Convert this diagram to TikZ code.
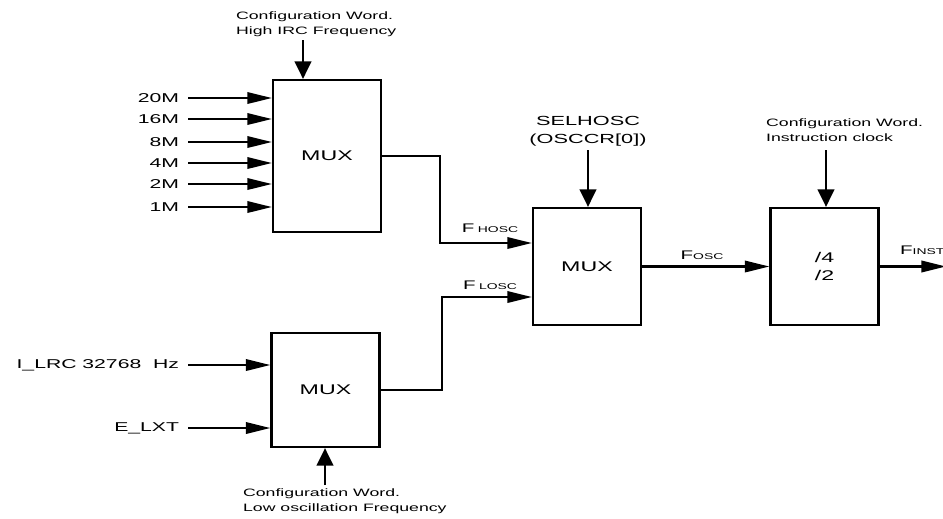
\documentclass[tikz,border=0pt]{standalone}
\usepackage{fontspec}
\setmainfont[FakeStretch=1.65]{Liberation Sans}
\usetikzlibrary{arrows.meta}
\newcommand\fsub[1]{{\fontsize{4.8}{5}\selectfont #1}}

\begin{document}
\begin{tikzpicture}[x=0.02cm,y=-0.02cm,line width=1.3pt,
  blk/.style={draw,minimum width=2.16cm,inner sep=0pt,align=center,
    font=\fontsize{8}{10}\selectfont},
  hsig/.style={-{Triangle[length=14pt,width=6.5pt]}},
  vsig/.style={-{Triangle[length=10pt,width=9.5pt]}},
  inp/.style={anchor=east,inner xsep=4.5pt,inner ysep=1pt,
    font=\fontsize{7.3}{8.5}\selectfont},
  cfg/.style={anchor=west,align=left,inner sep=0pt,
    font=\fontsize{6.1}{8.5}\selectfont},
  sel/.style={align=center,inner sep=2pt,font=\fontsize{7.5}{10}\selectfont},
  flbl/.style={inner sep=0pt,font=\fontsize{7.1}{8.5}\selectfont}]
            \useasboundingbox (0,0) rectangle (943,518);

            \draw (327,156) node[blk,minimum height=3.04cm] (muxh) {MUX};
            \draw (587,266.5) node[blk,minimum height=2.34cm] (muxm) {MUX};
            \draw (824.5,266.5) node[blk,minimum height=2.34cm] (divb) {/4\\/2};
            \draw (325.5,390) node[blk,minimum height=2.28cm] (muxl) {MUX};

            \draw (188,98) node[inp] (i20) {20M};
            \draw (188,119) node[inp] (i16) {16M};
            \draw (188,142) node[inp] (i8) {8M};
            \draw (188,163) node[inp] (i4) {4M};
            \draw (188,184) node[inp] (i2) {2M};
            \draw (188,207) node[inp] (i1) {1M};
            \draw[hsig] (i20) -- (i20 -| muxh.west);
            \draw[hsig] (i16) -- (i16 -| muxh.west);
            \draw[hsig] (i8) -- (i8 -| muxh.west);
            \draw[hsig] (i4) -- (i4 -| muxh.west);
            \draw[hsig] (i2) -- (i2 -| muxh.west);
            \draw[hsig] (i1) -- (i1 -| muxh.west);

            \draw (188,365) node[inp] (ilrc) {I\_LRC 32768\ \ Hz};
            \draw (188,428) node[inp] (elxt) {E\_LXT};
            \draw[hsig] (ilrc) -- (ilrc -| muxl.west);
            \draw[hsig] (elxt) -- (elxt -| muxl.west);

            \draw (235,24) node[cfg] (cfgh) {Configuration Word.\\High IRC Frequency};
            \coordinate (ch) at (303,40);
            \draw[vsig] (ch) -- (ch |- muxh.north);

            \draw (588,131) node[sel] (selh) {SELHOSC\\(OSCCR[0])};
            \draw[vsig] (selh) -- (selh |- muxm.north);

            \draw (765,130.5) node[cfg] (cfgi) {Configuration Word.\\Instruction clock};
            \coordinate (ci) at (826,150);
            \draw[vsig] (ci) -- (ci |- divb.north);

            \draw (242,501.5) node[cfg] (cfgl) {Configuration Word.\\Low oscillation Frequency};
            \coordinate (cl) at (325,485);
            \draw[vsig] (cl) -- (cl |- muxl.south);

            \coordinate (jh) at (440,243);
            \coordinate (jl) at (442,297);
            \draw[hsig] (muxh) -| (jh) -- (jh -| muxm.west);
            \draw[hsig] (muxl) -| (jl) -- (jl -| muxm.west);
            \draw (490,228) node[flbl] (fh) {F\hspace{2pt}\fsub{HOSC}};
            \draw (490,285) node[flbl] (fl) {F\hspace{2pt}\fsub{LOSC}};

            \draw[hsig] (muxm) -- (divb);
            \draw (702,255) node[flbl] (fo) {F\fsub{OSC}};
            \coordinate (fout) at (946,266.5);
            \draw[hsig] (divb) -- (fout);
            \draw (899,250) node[flbl,anchor=west] (fi) {F\fsub{INST}};
\end{tikzpicture}
\end{document}
